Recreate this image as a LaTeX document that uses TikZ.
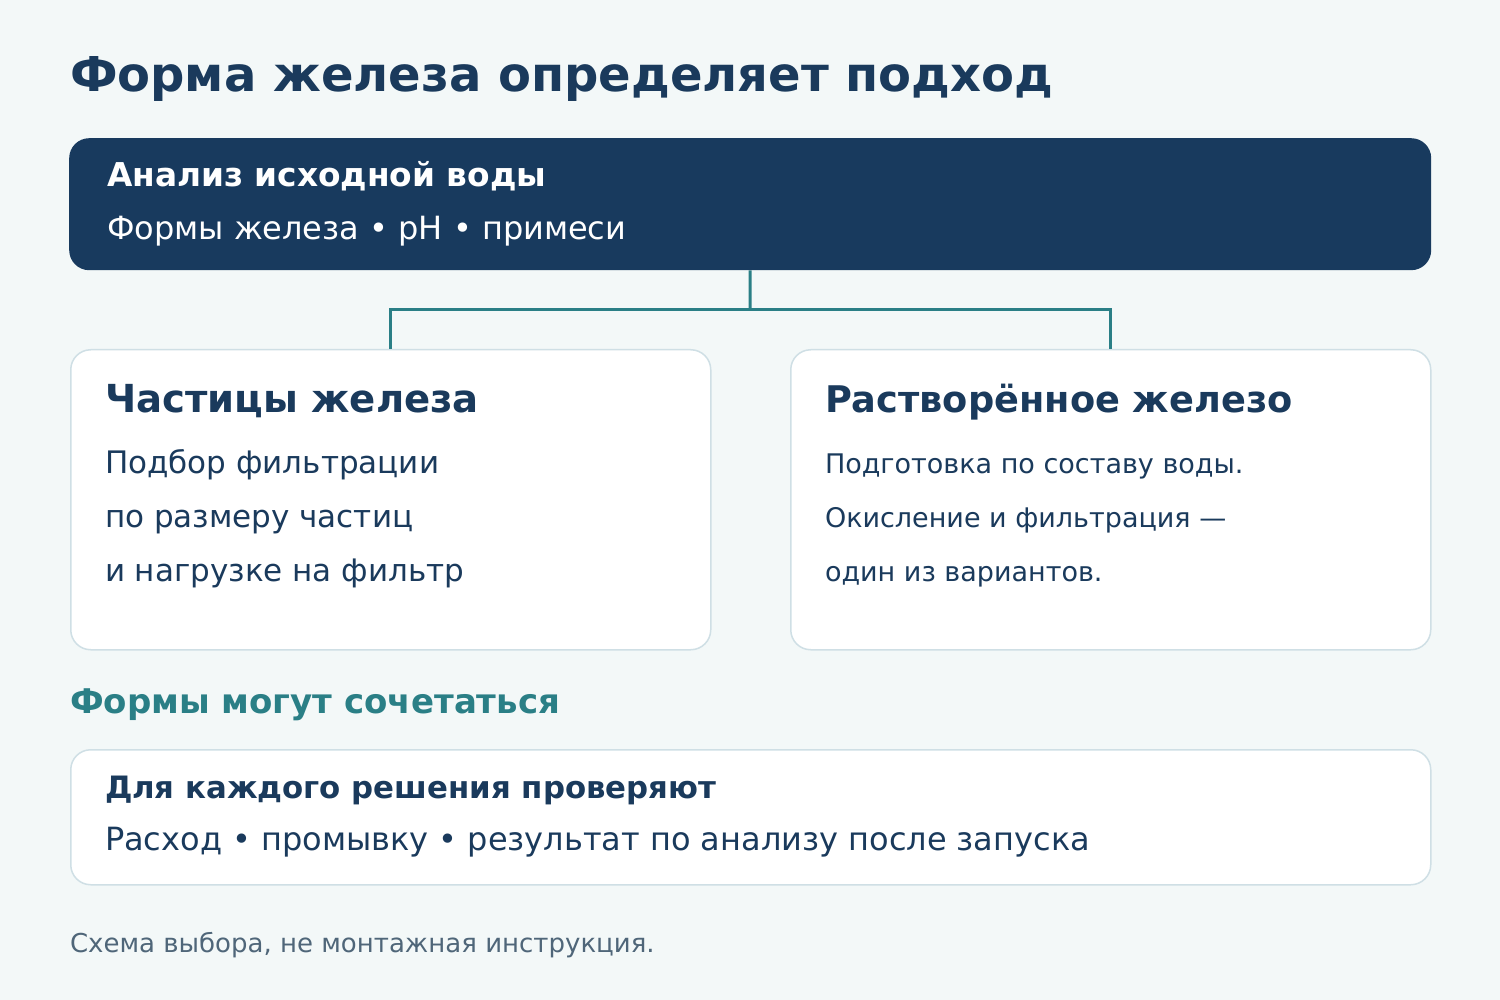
\documentclass[tikz,border=0pt]{standalone}
\usepackage{fontspec}
\setmainfont{DejaVu Sans}
\definecolor{bg}{HTML}{F3F8F8}
\definecolor{navy}{HTML}{183A5E}
\definecolor{ink}{HTML}{1A3A5C}
\definecolor{teal}{HTML}{2A7F86}
\definecolor{cardline}{HTML}{CFDFE5}
\definecolor{note}{HTML}{4F6679}
\newcommand{\fs}[1]{\fontsize{#1pt}{#1pt}\selectfont}
\begin{document}
\begin{tikzpicture}[x=1pt,y=-1pt,
  txt/.style={anchor=base west,inner sep=0pt,outer sep=0pt,text=ink},
  card/.style={draw=cardline,line width=1.5pt,fill=white,rounded corners=20pt},
  conn/.style={draw=teal,line width=3pt}]
\fill[bg] (0,0) rectangle (1500,1000);
\useasboundingbox (0,0) rectangle (1500,1000);
\node[txt,font=\bfseries\fs{48}] (title) at (70,92) {Форма железа определяет подход};
% top box
\node[fill=navy,rounded corners=20pt,minimum width=1362pt,minimum height=132pt,inner sep=0pt,anchor=north west] (top) at (69,138) {};
\node[txt,text=white,font=\bfseries\fs{32.8}] (toph) at (107,187) {Анализ исходной воды};
\node[txt,text=white,font=\fs{32}] (tops) at (107,240) {Формы железа • pH • примеси};
% cards
\node[card,minimum width=640pt,minimum height=300pt,inner sep=0pt,anchor=north west] (left) at (70,349) {};
\node[card,minimum width=640pt,minimum height=300pt,inner sep=0pt,anchor=north west] (right) at (790,349) {};
\coordinate (junc) at (750,310);
\draw[conn] (top.south) -- (junc);
\draw[conn] (left.north) |- (junc) -| (right.north);
\node[txt,font=\bfseries\fs{38.6}] (lh) at (105,412) {Частицы железа};
\node[txt,font=\fs{31}] (l1) at (105,473) {Подбор фильтрации};
\node[txt,font=\fs{31}] (l2) at (105,527) {по размеру частиц};
\node[txt,font=\fs{31}] (l3) at (105,581) {и нагрузке на фильтр};
\node[txt,font=\bfseries\fs{36.7}] (rh) at (825,412) {Растворённое железо};
\node[txt,font=\fs{27}] (r1) at (825,473) {Подготовка по составу воды.};
\node[txt,font=\fs{27}] (r2) at (825,527) {Окисление и фильтрация —};
\node[txt,font=\fs{27}] (r3) at (825,581) {один из вариантов.};
% combine
\node[txt,text=teal,font=\bfseries\fs{34}] (comb) at (70,713) {Формы могут сочетаться};
\node[card,minimum width=1360pt,minimum height=135pt,inner sep=0pt,anchor=north west] (bot) at (70,749) {};
\node[txt,font=\bfseries\fs{30.8}] (bh) at (105,798) {Для каждого решения проверяют};
\node[txt,font=\fs{32}] (bs) at (105,850) {Расход • промывку • результат по анализу после запуска};
\node[txt,text=note,font=\fs{26}] (foot) at (70,952) {Схема выбора, не монтажная инструкция.};
\end{tikzpicture}
\end{document}
